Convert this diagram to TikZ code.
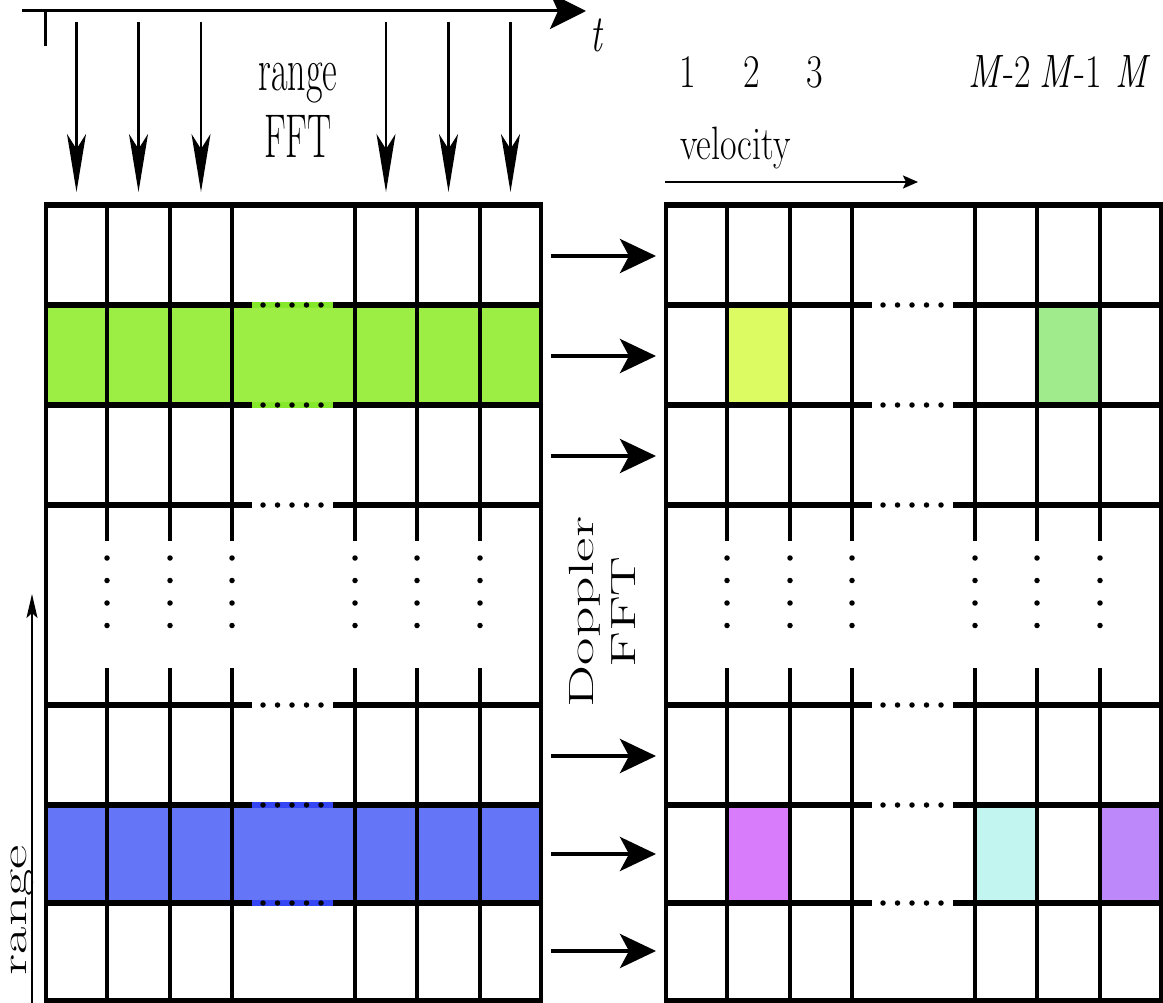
\documentclass[tikz,border=0pt]{standalone}
\usetikzlibrary{arrows.meta}

\definecolor{filaverde}{HTML}{9CEE44}
\definecolor{verdefuerte}{HTML}{86E82A}
\definecolor{filaazul}{HTML}{6575F8}
\definecolor{azulfuerte}{HTML}{3546F5}
\definecolor{celdaamarilla}{HTML}{DCFB62}
\definecolor{celdaverde}{HTML}{A0EC8C}
\definecolor{celdamagenta}{HTML}{D97CFC}
\definecolor{celdacian}{HTML}{C2F4F0}
\definecolor{celdamorada}{HTML}{BC88FA}

% Malla de celdas (el argumento desplaza en x)
\newcommand{\malla}[1]{%
  \begin{scope}[xshift=#1pt]
    % bordes
    \draw[vlinea] (46,205) -- (46,1001) (541,205) -- (541,1001);
    \draw[hlinea] (44.4,205) -- (542.6,205) (44.4,1001) -- (542.6,1001);
    % filas, con puntos en la columna central
    \foreach \y in {305,405,505,705,805,903} {
      \draw[hlinea] (44.4,\y) -- (252,\y) (333,\y) -- (542.6,\y);
      \draw[puntosh] (263,\y) -- (321,\y);
    }
    % columnas, con puntos en la fila central
    \foreach \x in {107,170,232,355,417,480} {
      \draw[vlinea] (\x,205) -- (\x,541) (\x,668) -- (\x,1001);
      \draw[puntosv] (\x,558) -- (\x,648);
    }
  \end{scope}}

\begin{document}
\begin{tikzpicture}[x=1pt, y=-1pt,
    hlinea/.style={line width=5.5pt},
    vlinea/.style={line width=3.2pt},
    puntosh/.style={line width=5.5pt, line cap=round, dash pattern=on 0pt off 14.5pt},
    puntosv/.style={line width=5.5pt, line cap=round, dash pattern=on 0pt off 22.5pt},
    rotulo/.style={font=\fontsize{35}{42}\selectfont, yscale=1.7, inner sep=0pt},
    indice/.style={font=\fontsize{36}{42}\selectfont, yscale=1.3, inner sep=0pt, anchor=base},
    flecha/.style={line width=4pt, -{Stealth[length=36pt, width=34pt, inset=9pt]}},
    flechab/.style={line width=2.5pt, -{Stealth[length=58pt, width=19pt, inset=15pt]}}]
    \useasboundingbox (0,0) rectangle (1163,1003);

    % Filas y celdas coloreadas
    \fill[filaverde] (46,305) rectangle (541,405);
    \fill[filaazul] (46,805) rectangle (541,903);
    \draw[hlinea, verdefuerte] (252,305) -- (333,305) (252,405) -- (333,405);
    \draw[hlinea, azulfuerte] (252,805) -- (333,805) (252,903) -- (333,903);
    \fill[celdaamarilla] (727,305) rectangle (790,405);
    \fill[celdaverde] (1037,305) rectangle (1100,405);
    \fill[celdamagenta] (727,805) rectangle (790,903);
    \fill[celdacian] (975,805) rectangle (1037,903);
    \fill[celdamorada] (1100,805) rectangle (1163,903);

    % Las dos mallas
    \malla{0}
    \malla{620}

    % Eje de tiempo
    \coordinate (t0) at (22,11);
    \coordinate (t1) at (586,11);
    \draw[line width=3pt, -{Stealth[length=36pt, width=36pt, inset=8pt]}] (t0) -- (t1);
    \draw[line width=3pt] (45,11) -- (45,46);
    \node[indice, yscale=1.12] (tiempo) at (597,52) {\textit{t}};

    % Flechas de la range FFT
    \foreach \x [count=\i] in {76.5,138.5,201,386,448.5,510.5} {
        \coordinate (fa\i) at (\x,22);
        \coordinate (fb\i) at (\x,192);
        \draw[flechab] (fa\i) -- (fb\i);
    }
    \node[rotulo, font=\fontsize{36}{39}\selectfont, yscale=1.01, align=center] (rangofft) at (298,110) {range\\FFT};

    % Indices de velocidad
    \foreach \x/\lab [count=\i] in {688/1, 752/2, 815/3, 1000/\textit{M}-2, 1071/\textit{M}-1, 1133/\textit{M}}
        \node[indice] (v\i) at (\x,88) {\lab};
    \node[indice, anchor=base west] (velocidad) at (680,160) {velocity};
    \coordinate (va) at (665,182);
    \coordinate (vb) at (918,182);
    \draw[line width=2pt, -{Stealth[length=15pt, width=13pt, inset=3pt]}] (va) -- (vb);

    % Eje de rango
    \coordinate (ra) at (32,1003);
    \coordinate (rb) at (32,594);
    \draw[line width=2pt, -{Stealth[length=24pt, width=11pt, inset=5pt]}] (ra) -- (rb);
    \node[rotulo, rotate=90, anchor=base] (rango) at (26,910) {range};

    % Doppler FFT
    \node[rotulo, rotate=90, align=center] (doppler) at (602,612) {Doppler\\FFT};
    \foreach \y [count=\i] in {256,356,456,756,854,951} {
        \coordinate (ia\i) at (551,\y);
        \coordinate (ib\i) at (656,\y);
        \draw[flecha] (ia\i) -- (ib\i);
    }
\end{tikzpicture}
\end{document}
